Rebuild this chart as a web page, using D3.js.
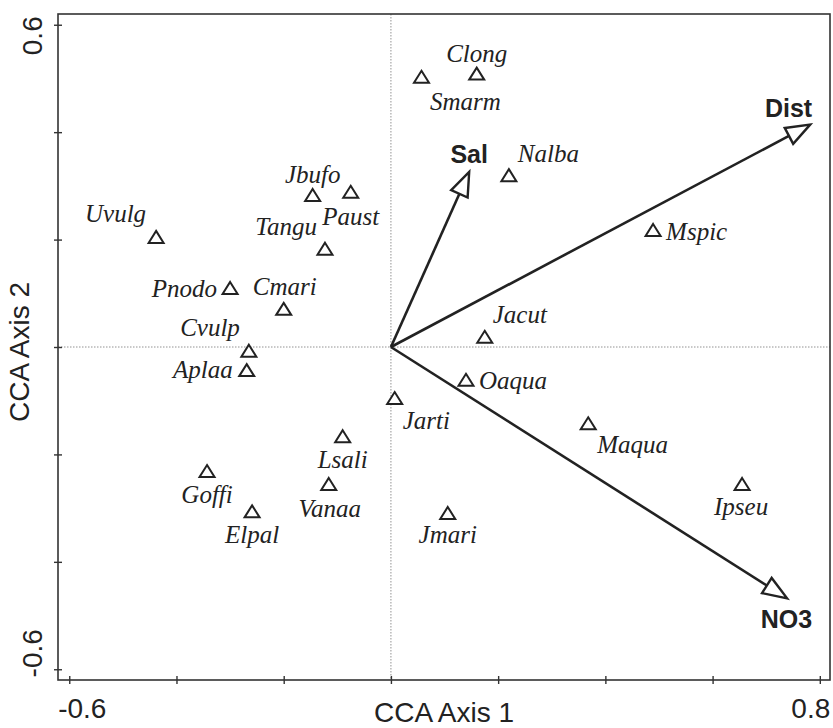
<!DOCTYPE html>
<html>
<head>
<meta charset="utf-8">
<script src="https://cdn.jsdelivr.net/npm/d3@7"></script>
<style>
  html, body { margin: 0; padding: 0; background: #fff; }
  svg { display: block; }
  .sp { font-family: "Liberation Serif", "Times New Roman", Tinos, "DejaVu Serif", "Noto Serif", serif; font-style: italic; }
  .ax { font-family: "Liberation Sans", Arial, Helvetica, sans-serif; }
</style>
</head>
<body>
<svg id="chart" width="833" height="728"></svg>
<script>
// ---- data ----
const species = ["Clong","Smarm","Nalba","Jbufo","Paust","Tangu","Uvulg","Pnodo","Cmari","Cvulp","Aplaa","Mspic","Jacut","Oaqua","Jarti","Maqua","Lsali","Goffi","Vanaa","Elpal","Jmari","Ipseu"];
const axis1 = [0.160,0.057,0.220,-0.146,-0.075,-0.123,-0.438,-0.300,-0.200,-0.265,-0.269,0.489,0.175,0.140,0.007,0.368,-0.090,-0.343,-0.116,-0.259,0.106,0.655];
const axis2 = [0.509,0.503,0.320,0.283,0.289,0.183,0.205,0.110,0.071,-0.007,-0.043,0.218,0.019,-0.061,-0.095,-0.142,-0.166,-0.231,-0.255,-0.306,-0.309,-0.255];

const envNames = ["Sal","Dist","NO3"];
const envAxis1 = [0.146,0.782,0.739];
const envAxis2 = [0.326,0.414,-0.468];

const tickValues = [-0.6,-0.4,-0.2,0,0.2,0.4,0.6,0.8];
const yTickValues = [-0.6,-0.4,-0.2,0,0.2,0.4,0.6];
const xTickLabels = [-0.6, 0.8];
const yTickLabels = [0.6, -0.6];
const xTitle = "CCA Axis 1";
const yTitle = "CCA Axis 2";

// ---- layout (label placement, px offsets from marker) ----
const labelLayout = {
  Clong:[0,-12,"middle"], Smarm:[44,33,"middle"], Nalba:[9,-13,"start"],
  Jbufo:[0,-12,"middle"], Paust:[0,33,"middle"], Tangu:[-8,-14,"end"],
  Uvulg:[-10,-15,"end"], Pnodo:[-13,9,"end"], Cmari:[1,-14,"middle"],
  Cvulp:[-9,-15,"end"], Aplaa:[-14,8,"end"], Mspic:[13,10,"start"],
  Jacut:[8,-14,"start"], Oaqua:[13,9,"start"], Jarti:[8,31,"start"],
  Maqua:[9,30,"start"], Lsali:[0,32,"middle"], Goffi:[0,32,"middle"],
  Vanaa:[1,33,"middle"], Elpal:[0,32,"middle"], Jmari:[0,30,"middle"],
  Ipseu:[-1,31,"middle"]
};
const envLayout = { Sal:[0,-9,"middle"], Dist:[2,-8,"end"], NO3:[25,30,"end"] };

const svg = d3.select("#chart");
const L = 58, R = 830, T = 14, B = 680;
const x = d3.scaleLinear().domain([-0.621, 0.819]).range([L, R]);
const y = d3.scaleLinear().domain([-0.62, 0.62]).range([B, T]);
const ink = "#222";

// zero lines
svg.append("line").attr("x1", x(0)).attr("x2", x(0)).attr("y1", T).attr("y2", B)
  .attr("stroke", "#777").attr("stroke-width", 0.8).attr("stroke-dasharray", "1.5,1.5");
svg.append("line").attr("x1", L).attr("x2", R).attr("y1", y(0)).attr("y2", y(0))
  .attr("stroke", "#777").attr("stroke-width", 0.8).attr("stroke-dasharray", "1.5,1.5");

// frame
svg.append("rect").attr("x", L).attr("y", T).attr("width", R - L).attr("height", B - T)
  .attr("fill", "none").attr("stroke", "#333").attr("stroke-width", 1.6);

// ticks (crossing the frame)
const xAxis = d3.axisBottom(x).tickValues(tickValues).tickSize(4).tickFormat("");
const gx = svg.append("g").attr("transform", `translate(0,${B})`).call(xAxis);
gx.select(".domain").remove();
gx.selectAll(".tick line").attr("y1", -4).attr("stroke", "#333").attr("stroke-width", 1.4);

const yAxis = d3.axisLeft(y).tickValues(yTickValues).tickSize(4).tickFormat("");
const gy = svg.append("g").attr("transform", `translate(${L},0)`).call(yAxis);
gy.select(".domain").remove();
gy.selectAll(".tick line").attr("x1", 4).attr("x2", -4).attr("stroke", "#333").attr("stroke-width", 1.4);

// tick labels
const xOff = {"-0.6": 13, "0.8": -9};
svg.selectAll(".xtl").data(xTickLabels).enter().append("text").attr("class", "ax")
  .attr("x", d => x(d) + xOff[String(d)]).attr("y", 718)
  .attr("text-anchor", "middle").attr("font-size", 28)
  .attr("fill", "#222").text(d => String(d));
const yOff = {"0.6": 11, "-0.6": -16};
svg.selectAll(".ytl").data(yTickLabels).enter().append("text").attr("class", "ax")
  .attr("transform", d => `translate(42,${y(d) + yOff[String(d)]}) rotate(-90)`)
  .attr("text-anchor", "middle").attr("font-size", 28)
  .attr("fill", "#222").text(d => String(d));

// axis titles
svg.append("text").attr("class", "ax").attr("x", 444).attr("y", 722).attr("text-anchor", "middle")
  .attr("font-size", 28).attr("fill", "#222").text(xTitle);
svg.append("text").attr("class", "ax").attr("transform", "translate(29,352) rotate(-90)").attr("text-anchor", "middle")
  .attr("font-size", 28).attr("fill", "#222").text(yTitle);

// environmental arrows
const env = envNames.map((n, i) => ({ name: n, a1: envAxis1[i], a2: envAxis2[i] }));
const ox = x(0), oy = y(0);
const headL = 24, headW = 9;
env.forEach(e => {
  const tx = x(e.a1), ty = y(e.a2);
  const dx = tx - ox, dy = ty - oy, len = Math.hypot(dx, dy);
  const ux = dx / len, uy = dy / len, nx = -uy, ny = ux;
  const bx = tx - headL * ux, by = ty - headL * uy;
  svg.append("line").attr("x1", ox).attr("y1", oy).attr("x2", bx).attr("y2", by)
    .attr("stroke", ink).attr("stroke-width", 2.6);
  svg.append("path")
    .attr("d", `M${tx},${ty}L${bx + headW * nx},${by + headW * ny}L${bx - headW * nx},${by - headW * ny}Z`)
    .attr("fill", "#fff").attr("stroke", ink).attr("stroke-width", 2.4).attr("stroke-linejoin", "miter");
  const lay = envLayout[e.name];
  svg.append("text").attr("class", "ax").attr("x", tx + lay[0]).attr("y", ty + lay[1]).attr("text-anchor", lay[2])
    .attr("font-weight", "bold").attr("font-size", 25)
    .attr("fill", "#222").text(e.name);
});

// species
const pts = species.map((n, i) => ({ name: n, a1: axis1[i], a2: axis2[i] }));
const tw = 7.5, th = 6;
const gp = svg.append("g");
gp.selectAll("path").data(pts).enter().append("path")
  .attr("d", d => {
    const cx = x(d.a1), cy = y(d.a2);
    return `M${cx},${cy - th}L${cx + tw},${cy + th}L${cx - tw},${cy + th}Z`;
  })
  .attr("fill", "#fff").attr("stroke", ink).attr("stroke-width", 2);
gp.selectAll("text").data(pts).enter().append("text").attr("class", "sp")
  .attr("x", d => x(d.a1) + labelLayout[d.name][0])
  .attr("y", d => y(d.a2) + labelLayout[d.name][1])
  .attr("text-anchor", d => labelLayout[d.name][2])
  .attr("font-size", 25).attr("fill", "#222")
  .text(d => d.name);
</script>
</body>
</html>
